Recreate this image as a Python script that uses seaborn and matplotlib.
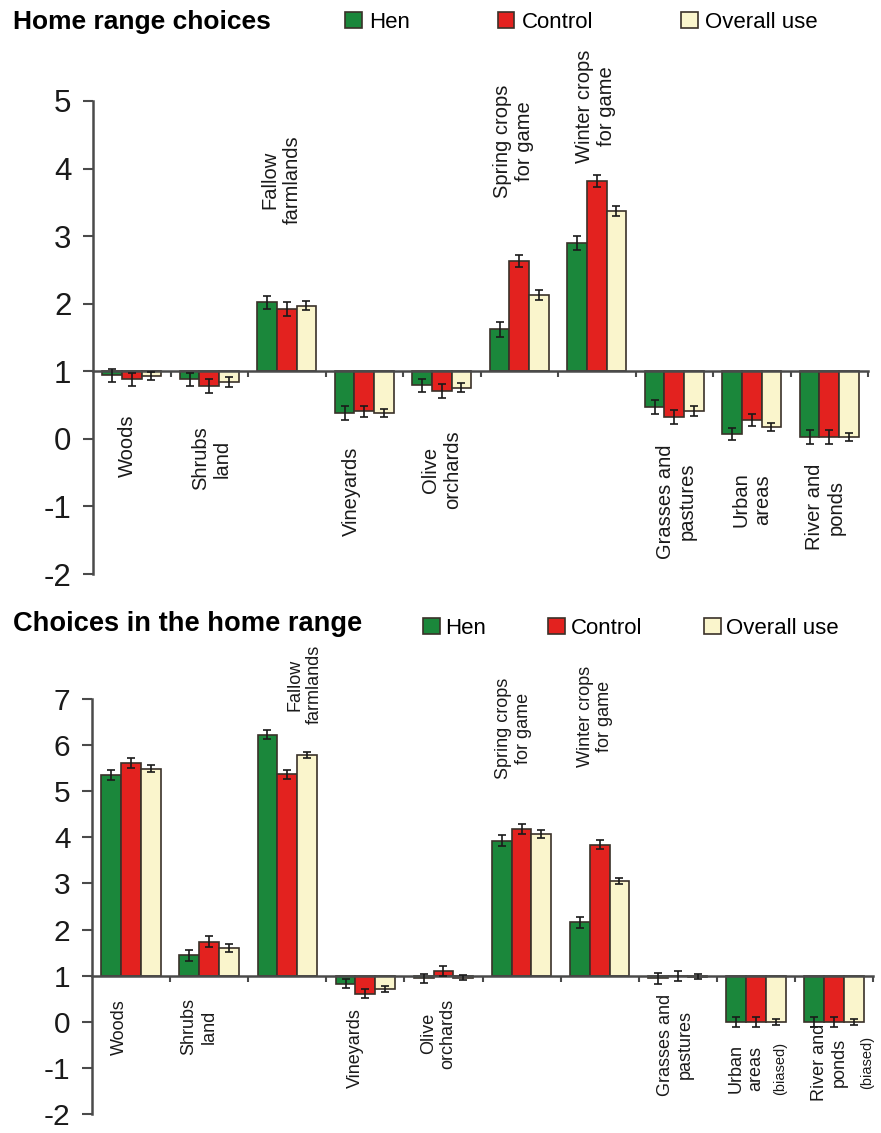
import pandas as pd
import matplotlib.pyplot as plt
import seaborn as sns

# Habitat categories and groups
categories = ["Woods", "Shrubs\nland", "Fallow\nfarmlands", "Vineyards", "Olive\norchards",
              "Spring crops\nfor game", "Winter crops\nfor game", "Grasses and\npastures",
              "Urban\nareas", "River and\nponds"]
groups = ["Hen", "Control", "Overall use"]

# Top panel: home range choices
home_hen = [0.94, 0.88, 2.02, 0.38, 0.79, 1.62, 2.90, 0.47, 0.07, 0.03]
home_control = [0.88, 0.78, 1.92, 0.41, 0.71, 2.63, 3.81, 0.32, 0.28, 0.03]
home_overall = [0.93, 0.84, 1.97, 0.38, 0.76, 2.13, 3.37, 0.41, 0.17, 0.03]
home_hen_err = [0.10, 0.10, 0.10, 0.10, 0.10, 0.11, 0.10, 0.10, 0.09, 0.10]
home_control_err = [0.10, 0.10, 0.10, 0.08, 0.10, 0.09, 0.09, 0.10, 0.09, 0.10]
home_overall_err = [0.06, 0.07, 0.07, 0.06, 0.06, 0.07, 0.07, 0.07, 0.06, 0.06]

# Bottom panel: choices in the home range
within_hen = [5.36, 1.44, 6.23, 0.83, 0.94, 3.93, 2.16, 0.94, 0.0, 0.0]
within_control = [5.62, 1.74, 5.37, 0.61, 1.10, 4.19, 3.84, 1.00, 0.0, 0.0]
within_overall = [5.49, 1.60, 5.78, 0.71, 0.96, 4.07, 3.05, 0.98, 0.0, 0.0]
within_hen_err = [0.11, 0.12, 0.10, 0.10, 0.10, 0.11, 0.12, 0.12, 0.11, 0.11]
within_control_err = [0.11, 0.11, 0.10, 0.10, 0.10, 0.11, 0.10, 0.11, 0.11, 0.11]
within_overall_err = [0.08, 0.08, 0.06, 0.07, 0.06, 0.08, 0.06, 0.06, 0.07, 0.07]

# Layout of the category labels: (x offset, y centre) in data units
top_label_pos = [(-0.06, -0.10), (0.03, -0.29), (-0.07, 3.84), (-0.16, -0.78), (0.0, -0.46),
                 (-0.08, 4.40), (-0.01, 4.92), (0.03, -0.93), (0.0, -0.90), (-0.05, -1.01)]
bottom_label_pos = [(-0.15, -0.11), (-0.13, -0.11), (0.22, 7.31), (-0.13, -0.58), (-0.07, -0.26),
                    (-0.10, 6.36), (-0.06, 6.62), (-0.03, -0.50), (-0.13, -1.02), (-0.06, -0.89)]
biased_pos = {8: (0.31, -1.02), 9: (0.42, -0.89)}

colors = ["#1b873b", "#e3221f", "#faf5cc"]
edge = "#3a3129"
axis_col = "#4a4a4a"

plt.rcParams["font.family"] = ["Liberation Sans", "DejaVu Sans"]
plt.rcParams["axes.unicode_minus"] = False


def draw_panel(ax, hen, control, overall, errs, ymin, ymax, label_pos, label_fs, tick_fs):
    df = pd.DataFrame({
        "habitat": categories * 3,
        "group": [g for g in groups for _ in categories],
        "value": hen + control + overall,
    })
    # bars grow from the neutral value 1
    df["height"] = df["value"] - 1
    sns.barplot(data=df, x="habitat", y="height", hue="group", order=categories,
                hue_order=groups, palette=colors, saturation=1, width=0.76,
                errorbar=None, bottom=1, edgecolor=edge, linewidth=1.2,
                legend=False, ax=ax)
    for cont, err in zip(ax.containers, errs):
        xs = [p.get_x() + p.get_width() / 2 for p in cont.patches]
        ys = [p.get_y() + p.get_height() for p in cont.patches]
        ax.errorbar(xs, ys, yerr=err, fmt="none", ecolor="#1a1a1a", elinewidth=1.2,
                    capsize=3, capthick=1.2, zorder=4)

    ax.set_xlim(-0.5, len(categories) - 0.5)
    ax.set_ylim(ymin, ymax)
    ax.set_yticks(range(ymin, ymax + 1))
    ax.set_xticks([i + 0.5 for i in range(len(categories))])
    ax.set_xticklabels([])
    ax.set_xlabel("")
    ax.set_ylabel("")
    ax.spines["top"].set_visible(False)
    ax.spines["right"].set_visible(False)
    ax.spines["bottom"].set_position(("data", 1))
    for s in ["left", "bottom"]:
        ax.spines[s].set_color(axis_col)
        ax.spines[s].set_linewidth(1.8)
    ax.tick_params(axis="y", direction="out", length=7.5, width=1.5, color=axis_col,
                   labelsize=tick_fs, labelcolor="#1a1a1a", pad=8)
    ax.tick_params(axis="x", direction="out", length=4, width=1.5, color=axis_col)
    ax.patch.set_alpha(0)

    for i, cat in enumerate(categories):
        dx, y = label_pos[i]
        ax.text(i + dx, y, cat, rotation=90, ha="center", va="center",
                multialignment="center", fontsize=label_fs, color="#1a1a1a")


fig = plt.figure(figsize=(8.81, 11.33), dpi=100)

ax1 = fig.add_axes([93 / 881, 1 - 574 / 1133, 775 / 881, 473 / 1133])
draw_panel(ax1, home_hen, home_control, home_overall,
           [home_hen_err, home_control_err, home_overall_err],
           -2, 5, top_label_pos, 14.5, 22.5)

ax2 = fig.add_axes([92 / 881, 19 / 1133, 781 / 881, 415 / 1133])
draw_panel(ax2, within_hen, within_control, within_overall,
           [within_hen_err, within_control_err, within_overall_err],
           -2, 7, bottom_label_pos, 13, 21.5)
for i, (dx, y) in biased_pos.items():
    ax2.text(i + dx, y, "(biased)", rotation=90, ha="center", va="center",
             fontsize=10.5, color="#1a1a1a")

# Titles
fig.text(13 / 881, 1 - 29 / 1133, "Home range choices", fontsize=19,
         fontweight="bold", va="baseline", ha="left")
fig.text(13 / 881, 1 - 631 / 1133, "Choices in the home range", fontsize=19.6,
         fontweight="bold", va="baseline", ha="left")

# Legends
fig.legend(ax1.containers, groups, loc="center left",
           bbox_to_anchor=(345 / 881, 1 - 22 / 1133), ncol=3, frameon=False,
           fontsize=16, handlelength=0.75, handleheight=0.75, handletextpad=0.33,
           columnspacing=3.95, borderpad=0, borderaxespad=0)
fig.legend(ax2.containers, groups, loc="center left",
           bbox_to_anchor=(423 / 881, 1 - 628 / 1133), ncol=3, frameon=False,
           fontsize=16, handlelength=0.75, handleheight=0.75, handletextpad=0.25,
           columnspacing=2.8, borderpad=0, borderaxespad=0)

fig.savefig("out.png", dpi=100, facecolor="white")
